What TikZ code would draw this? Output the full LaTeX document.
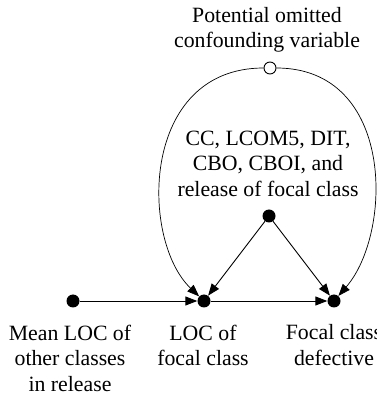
\documentclass[tikz,border=0pt]{standalone}
\usepackage{fontspec}
\setmainfont{Liberation Serif}
\usetikzlibrary{arrows.meta}
\begin{document}
\begin{tikzpicture}[x=1pt,y=1pt,
  dot/.style={circle,fill=black,inner sep=0pt,minimum size=13pt},
  odot/.style={circle,draw=black,fill=white,line width=0.9pt,inner sep=0pt,minimum size=12pt},
  lbl/.style={align=center,inner sep=0pt,anchor=north,font=\fontsize{21.8}{25.5}\selectfont},
  arr/.style={line width=0.9pt,-{Triangle[length=12pt,width=9pt]}},
  curve/.style={line width=0.7pt,-{Triangle[length=12pt,width=9pt]}}]
\useasboundingbox (0,0) rectangle (377,399);
% nodes
\node[odot] (O) at (270,331) {};
\node[dot] (C) at (269,183) {};
\node[dot] (M) at (73,98) {};
\node[dot] (L) at (204,98) {};
\node[dot] (F) at (334,98) {};
% labels
\node[lbl] (tO) at (267,392) {Potential omitted\\confounding variable};
\node[lbl] (tC) at (268,268.4) {CC, LCOM5, DIT,\\CBO, CBOI, and\\release of focal class};
\node[lbl] (tM) at (70,74.4) {Mean LOC of\\other classes\\in release};
\node[lbl] (tL) at (203,74.4) {LOC of\\focal class};
\node[lbl] (tF) at (334,74.4) {Focal class\\defective};
% connectors
\draw[arr] (M) -- (L);
\draw[arr] (L) -- (F);
\draw[arr] (C) -- (L);
\draw[arr] (C) -- (F);
\draw[curve] (O) .. controls (140,331) and (140,159) .. (L);
\draw[curve] (O) .. controls (395,331) and (393,166) .. (F);
\end{tikzpicture}
\end{document}
